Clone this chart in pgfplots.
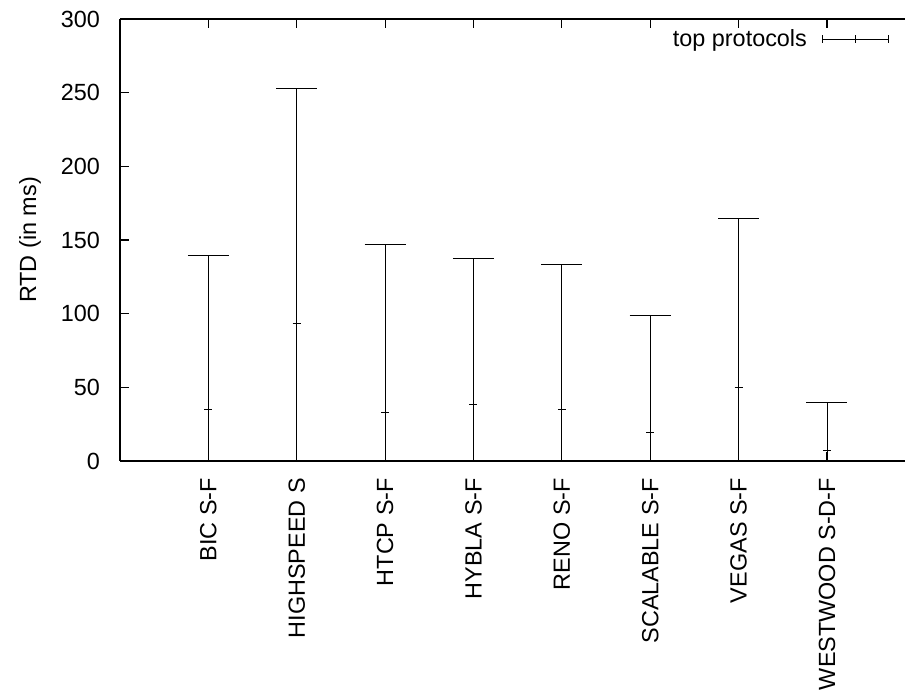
\documentclass[border=0pt]{standalone}
\usepackage{pgfplots}
\pgfplotsset{compat=1.18}
\usepackage{pgfplotstable}
\usepackage{fontspec}
\setmainfont{Liberation Sans}

% RTD per protocol: mean, low and high (ms)
\pgfplotstableread{
x mean low high
1 35.1 0 139.8
2 93.4 0 253.0
3 33.0 0 147.3
4 38.5 0 137.8
5 35.1 0 133.7
6 19.7 0 99.1
7 50.0 0 164.9
8 7.0  0 39.8
}\rtd

\newcommand{\lblfont}{\fontsize{23.4}{28}\selectfont}

\begin{document}
\begin{tikzpicture}
\useasboundingbox (0,0) rectangle (905pt,693pt);
\clip (0,0) rectangle (905pt,693pt);
\begin{axis}[
  at={(120pt,232pt)}, anchor=south west,
  scale only axis, width=795pt, height=442pt,
  xmin=0, xmax=8.996, ymin=0, ymax=300,
  axis x line*=box, axis y line*=left,
  axis line style={line width=1.3pt},
  axis on top,
  tick align=inside, major tick length=9pt,
  every tick/.style={black, line width=1.1pt},
  xtick={1,...,8},
  xticklabels={BIC S-F, HIGHSPEED S, HTCP S-F, HYBLA S-F, RENO S-F, SCALABLE S-F, VEGAS S-F, WESTWOOD S-D-F},
  ytick={0,50,...,300},
  /pgf/number format/assume math mode=true,
  xticklabel style={rotate=90, anchor=east, inner sep=0pt, font=\lblfont},
  xticklabel shift=17pt,
  yticklabel style={inner sep=0pt, font=\lblfont},
  yticklabel shift=20pt,
  ylabel={RTD (in ms)},
  ylabel style={at={(axis description cs:-0.1132,0.5)}, anchor=center, font=\lblfont},
  legend plot pos=right,
  legend style={at={(axis description cs:0.9673,0.9548)}, anchor=east,
    draw=none, fill=none, inner sep=0pt, column sep=15pt,
    nodes={inner sep=0pt}, font=\lblfont},
  legend image code/.code={
    \draw[line width=0.9pt] (0pt,0pt) -- (66pt,0pt);
    \draw[line width=0.9pt] (0pt,-4pt) -- (0pt,4pt);
    \draw[line width=0.9pt] (66pt,-4pt) -- (66pt,4pt);
    \draw[line width=0.9pt] (33pt,-4pt) -- (33pt,4pt);
  },
]
\addplot[black, only marks, mark=+, mark size=4pt, mark options={line width=0.9pt},
  error bars/.cd, y dir=both, y explicit,
  error bar style={line width=0.9pt, black},
  error mark options={rotate=90, mark size=20.5pt, line width=0.9pt, black}]
  table[x=x, y=mean,
    y error plus expr=\thisrow{high}-\thisrow{mean},
    y error minus expr=\thisrow{mean}-\thisrow{low}] {\rtd};
\addlegendentry{top protocols}
\end{axis}
\end{tikzpicture}
\end{document}
